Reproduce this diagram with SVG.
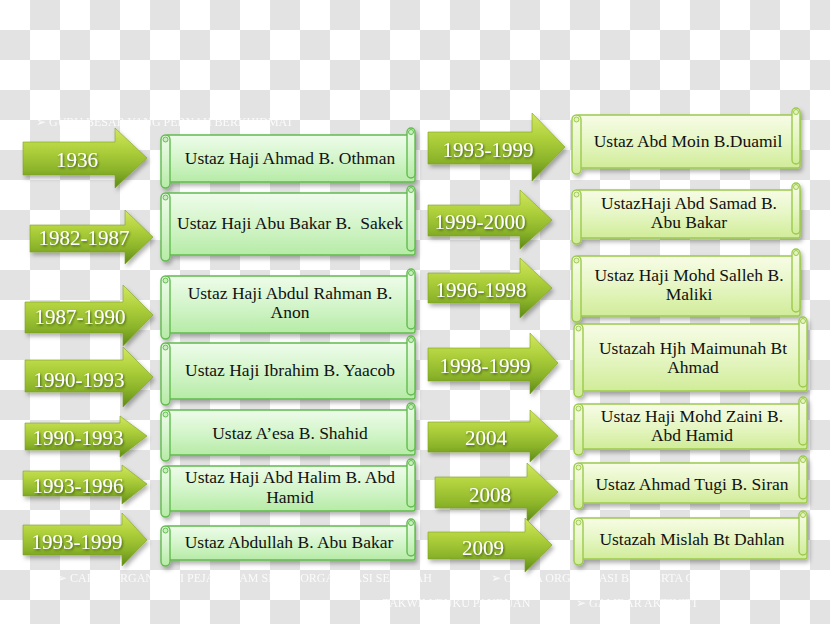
<svg xmlns="http://www.w3.org/2000/svg" width="830" height="624" viewBox="0 0 830 624">
<defs>
<pattern id="cb" width="60" height="60" patternUnits="userSpaceOnUse">
<rect width="60" height="60" fill="#ffffff"/>
<rect x="30" y="0" width="30" height="30" fill="#e3e3e3"/>
<rect x="0" y="30" width="30" height="30" fill="#e3e3e3"/>
</pattern>
<linearGradient id="gArrow" x1="0" y1="0" x2="0" y2="1">
<stop offset="0" stop-color="#d2e660"/>
<stop offset="0.35" stop-color="#b0d13c"/>
<stop offset="0.7" stop-color="#8cb42a"/>
<stop offset="1" stop-color="#5d8a18"/>
</linearGradient>
<linearGradient id="gLeft" x1="0" y1="0" x2="0" y2="1">
<stop offset="0" stop-color="#eefcea"/>
<stop offset="0.5" stop-color="#d4f5cb"/>
<stop offset="1" stop-color="#b6eba6"/>
</linearGradient>
<linearGradient id="gRight" x1="0" y1="0" x2="0" y2="1">
<stop offset="0" stop-color="#f7fce6"/>
<stop offset="0.5" stop-color="#e6f6c4"/>
<stop offset="1" stop-color="#d0ec98"/>
</linearGradient>
<filter id="sh" x="-10%" y="-10%" width="130%" height="140%">
<feDropShadow dx="2" dy="3" stdDeviation="2" flood-color="#000" flood-opacity="0.3"/>
</filter>
<filter id="tsh" x="-10%" y="-20%" width="130%" height="160%">
<feDropShadow dx="1" dy="1.5" stdDeviation="0.8" flood-color="#2f4a08" flood-opacity="0.8"/>
</filter>
</defs>
<style>
.bgt{font-family:"Liberation Serif",serif;font-size:12px;fill:#ffffff;opacity:0.85}
.arr{fill:url(#gArrow);stroke:#7da224;stroke-width:0.6;filter:url(#sh)}
.yr{font-family:"Liberation Serif",serif;font-size:21px;fill:#ffffff;text-anchor:middle;filter:url(#tsh)}
.L .sb,.L .sr{fill:url(#gLeft);stroke:#62bb4f;stroke-width:1.4}
.R .sb,.R .sr{fill:url(#gRight);stroke:#9cc94c;stroke-width:1.4}
.L .cu{fill:#c8f0bc;stroke:#62bb4f;stroke-width:1}
.R .cu{fill:#e3f4bd;stroke:#9cc94c;stroke-width:1}
.scr{filter:url(#sh)}
.nm{font-family:"Liberation Serif",serif;font-size:17.5px;fill:#111111;text-anchor:middle}
</style>
<rect width="830" height="624" fill="url(#cb)"/>
<g id="background-text">
<text class="bgt" x="36" y="126">➢  GURU BESAR YANG PERNAH BERKHIDMAT</text>
<text class="bgt" x="57" y="582">➢  CARTA ORGANISASI PEJABAT AM SERTA ORGANISASI SEKOLAH</text>
<text class="bgt" x="491" y="582">➢  CARTA ORGANISASI BKP SERTA GURU</text>
<text class="bgt" x="370" y="607">➢  TAKWIM/BUKU PANDUAN</text>
<text class="bgt" x="576" y="607">➢  GAMBAR AKTIVITI</text>
</g>
<g id="connectors"></g>

<g id="year-1936"><path class="arr" d="M23,142 H115 V128 L147,158 L115,188 V175 H23 Z"/><text class="yr" x="77" y="167">1936</text></g>
<g id="year-1982-1987"><path class="arr" d="M30,225 H125 V210 L153,237 L125,264 V252 H30 Z"/><text class="yr" x="84" y="245">1982-1987</text></g>
<g id="year-1987-1990"><path class="arr" d="M25,302 H123 V285 L153,315 L123,346 V333 H25 Z"/><text class="yr" x="80" y="324">1987-1990</text></g>
<g id="year-1990-1993a"><path class="arr" d="M25,360 H123 V347 L153,377 L123,407 V392 H25 Z"/><text class="yr" x="79" y="387">1990-1993</text></g>
<g id="year-1990-1993b"><path class="arr" d="M25,423 H120 V416 L147,436 L120,457 V450 H25 Z"/><text class="yr" x="78" y="445">1990-1993</text></g>
<g id="year-1993-1996"><path class="arr" d="M23,471 H122 V465 L147,484 L122,504 V496 H23 Z"/><text class="yr" x="78" y="493">1993-1996</text></g>
<g id="year-1993-1999a"><path class="arr" d="M23,525 H122 V513 L147,540 L122,566 V555 H23 Z"/><text class="yr" x="77" y="549">1993-1999</text></g>

<g id="year-1993-1999b"><path class="arr" d="M428,132 H532 V113 L565,147 L532,181 V164 H428 Z"/><text class="yr" x="488" y="157">1993-1999</text></g>
<g id="year-1999-2000"><path class="arr" d="M428,205 H520 V190 L552,220 L520,249 V236 H428 Z"/><text class="yr" x="480" y="229">1999-2000</text></g>
<g id="year-1996-1998"><path class="arr" d="M428,273 H520 V258 L552,288 L520,318 V303 H428 Z"/><text class="yr" x="481" y="297">1996-1998</text></g>
<g id="year-1998-1999"><path class="arr" d="M428,348 H530 V333 L558,363 L530,394 V381 H428 Z"/><text class="yr" x="485" y="373">1998-1999</text></g>
<g id="year-2004"><path class="arr" d="M428,422 H530 V410 L558,436 L530,462 V452 H428 Z"/><text class="yr" x="486" y="445">2004</text></g>
<g id="year-2008"><path class="arr" d="M435,477 H527 V463 L558,492 L527,522 V508 H435 Z"/><text class="yr" x="490" y="502">2008</text></g>
<g id="year-2009"><path class="arr" d="M428,532 H525 V518 L552,545 L525,572 V559 H428 Z"/><text class="yr" x="483" y="555">2009</text></g>

<g id="name-othman" class="L"><g class="scr"><rect class="sb" x="166" y="135" width="249" height="47" rx="2"/><rect class="sr" x="407" y="128" width="8" height="50" rx="4"/><rect class="sr" x="161" y="135" width="9" height="53" rx="4.5"/></g><circle class="cu" cx="165.5" cy="139.5" r="2.5"/><circle class="cu" cx="411" cy="132" r="2.5"/><text class="nm" x="290" y="164">Ustaz Haji Ahmad B. Othman</text></g>
<g id="name-sakek" class="L"><g class="scr"><rect class="sb" x="166" y="193" width="249" height="62" rx="2"/><rect class="sr" x="407" y="186" width="8" height="65" rx="4"/><rect class="sr" x="161" y="193" width="9" height="68" rx="4.5"/></g><circle class="cu" cx="165.5" cy="197.5" r="2.5"/><circle class="cu" cx="411" cy="190" r="2.5"/><text class="nm" x="290" y="229" xml:space="preserve">Ustaz Haji Abu Bakar B.  Sakek</text></g>
<g id="name-anon" class="L"><g class="scr"><rect class="sb" x="166" y="276" width="249" height="57" rx="2"/><rect class="sr" x="407" y="269" width="8" height="60" rx="4"/><rect class="sr" x="161" y="276" width="9" height="63" rx="4.5"/></g><circle class="cu" cx="165.5" cy="280.5" r="2.5"/><circle class="cu" cx="411" cy="273" r="2.5"/><text class="nm" x="290" y="299">Ustaz Haji Abdul Rahman B.</text><text class="nm" x="290" y="318">Anon</text></g>
<g id="name-yaacob" class="L"><g class="scr"><rect class="sb" x="166" y="343" width="249" height="56" rx="2"/><rect class="sr" x="407" y="336" width="8" height="59" rx="4"/><rect class="sr" x="161" y="343" width="9" height="62" rx="4.5"/></g><circle class="cu" cx="165.5" cy="347.5" r="2.5"/><circle class="cu" cx="411" cy="340" r="2.5"/><text class="nm" x="290" y="376">Ustaz Haji Ibrahim B. Yaacob</text></g>
<g id="name-shahid" class="L"><g class="scr"><rect class="sb" x="166" y="410" width="249" height="45" rx="2"/><rect class="sr" x="407" y="403" width="8" height="48" rx="4"/><rect class="sr" x="161" y="410" width="9" height="51" rx="4.5"/></g><circle class="cu" cx="165.5" cy="414.5" r="2.5"/><circle class="cu" cx="411" cy="407" r="2.5"/><text class="nm" x="290" y="439">Ustaz A’esa B. Shahid</text></g>
<g id="name-halim" class="L"><g class="scr"><rect class="sb" x="166" y="466" width="249" height="45" rx="2"/><rect class="sr" x="407" y="459" width="8" height="48" rx="4"/><rect class="sr" x="161" y="466" width="9" height="51" rx="4.5"/></g><circle class="cu" cx="165.5" cy="470.5" r="2.5"/><circle class="cu" cx="411" cy="463" r="2.5"/><text class="nm" x="290" y="483">Ustaz Haji Abd Halim B. Abd</text><text class="nm" x="290" y="503">Hamid</text></g>
<g id="name-abdullah" class="L"><g class="scr"><rect class="sb" x="166" y="526" width="249" height="34" rx="2"/><rect class="sr" x="407" y="519" width="8" height="37" rx="4"/><rect class="sr" x="161" y="526" width="9" height="40" rx="4.5"/></g><circle class="cu" cx="165.5" cy="530.5" r="2.5"/><circle class="cu" cx="411" cy="523" r="2.5"/><text class="nm" x="289" y="548">Ustaz Abdullah B. Abu Bakar</text></g>

<g id="name-moin" class="R"><g class="scr"><rect class="sb" x="577" y="115" width="223" height="53" rx="2"/><rect class="sr" x="792" y="108" width="8" height="56" rx="4"/><rect class="sr" x="572" y="115" width="9" height="59" rx="4.5"/></g><circle class="cu" cx="576.5" cy="119.5" r="2.5"/><circle class="cu" cx="796" cy="112" r="2.5"/><text class="nm" x="688" y="147">Ustaz Abd Moin B.Duamil</text></g>
<g id="name-samad" class="R"><g class="scr"><rect class="sb" x="577" y="190" width="223" height="48" rx="2"/><rect class="sr" x="792" y="183" width="8" height="51" rx="4"/><rect class="sr" x="572" y="190" width="9" height="54" rx="4.5"/></g><circle class="cu" cx="576.5" cy="194.5" r="2.5"/><circle class="cu" cx="796" cy="187" r="2.5"/><text class="nm" x="689" y="209">UstazHaji Abd Samad B.</text><text class="nm" x="689" y="228">Abu Bakar</text></g>
<g id="name-salleh" class="R"><g class="scr"><rect class="sb" x="577" y="256" width="223" height="60" rx="2"/><rect class="sr" x="792" y="249" width="8" height="63" rx="4"/><rect class="sr" x="572" y="256" width="9" height="66" rx="4.5"/></g><circle class="cu" cx="576.5" cy="260.5" r="2.5"/><circle class="cu" cx="796" cy="253" r="2.5"/><text class="nm" x="689" y="281">Ustaz Haji Mohd Salleh B.</text><text class="nm" x="689" y="300">Maliki</text></g>
<g id="name-maimunah" class="R"><g class="scr"><rect class="sb" x="579" y="324" width="228" height="67" rx="2"/><rect class="sr" x="799" y="317" width="8" height="70" rx="4"/><rect class="sr" x="574" y="324" width="9" height="73" rx="4.5"/></g><circle class="cu" cx="578.5" cy="328.5" r="2.5"/><circle class="cu" cx="803" cy="321" r="2.5"/><text class="nm" x="693" y="354">Ustazah Hjh Maimunah Bt</text><text class="nm" x="693" y="373">Ahmad</text></g>
<g id="name-zaini" class="R"><g class="scr"><rect class="sb" x="579" y="404" width="228" height="45" rx="2"/><rect class="sr" x="799" y="397" width="8" height="48" rx="4"/><rect class="sr" x="574" y="404" width="9" height="51" rx="4.5"/></g><circle class="cu" cx="578.5" cy="408.5" r="2.5"/><circle class="cu" cx="803" cy="401" r="2.5"/><text class="nm" x="692" y="422">Ustaz Haji Mohd Zaini B.</text><text class="nm" x="692" y="441">Abd Hamid</text></g>
<g id="name-siran" class="R"><g class="scr"><rect class="sb" x="579" y="463" width="228" height="40" rx="2"/><rect class="sr" x="799" y="456" width="8" height="43" rx="4"/><rect class="sr" x="574" y="463" width="9" height="46" rx="4.5"/></g><circle class="cu" cx="578.5" cy="467.5" r="2.5"/><circle class="cu" cx="803" cy="460" r="2.5"/><text class="nm" x="692" y="490">Ustaz Ahmad Tugi B. Siran</text></g>
<g id="name-dahlan" class="R"><g class="scr"><rect class="sb" x="579" y="518" width="228" height="41" rx="2"/><rect class="sr" x="799" y="511" width="8" height="44" rx="4"/><rect class="sr" x="574" y="518" width="9" height="47" rx="4.5"/></g><circle class="cu" cx="578.5" cy="522.5" r="2.5"/><circle class="cu" cx="803" cy="515" r="2.5"/><text class="nm" x="692" y="545">Ustazah Mislah Bt Dahlan</text></g>
</svg>
